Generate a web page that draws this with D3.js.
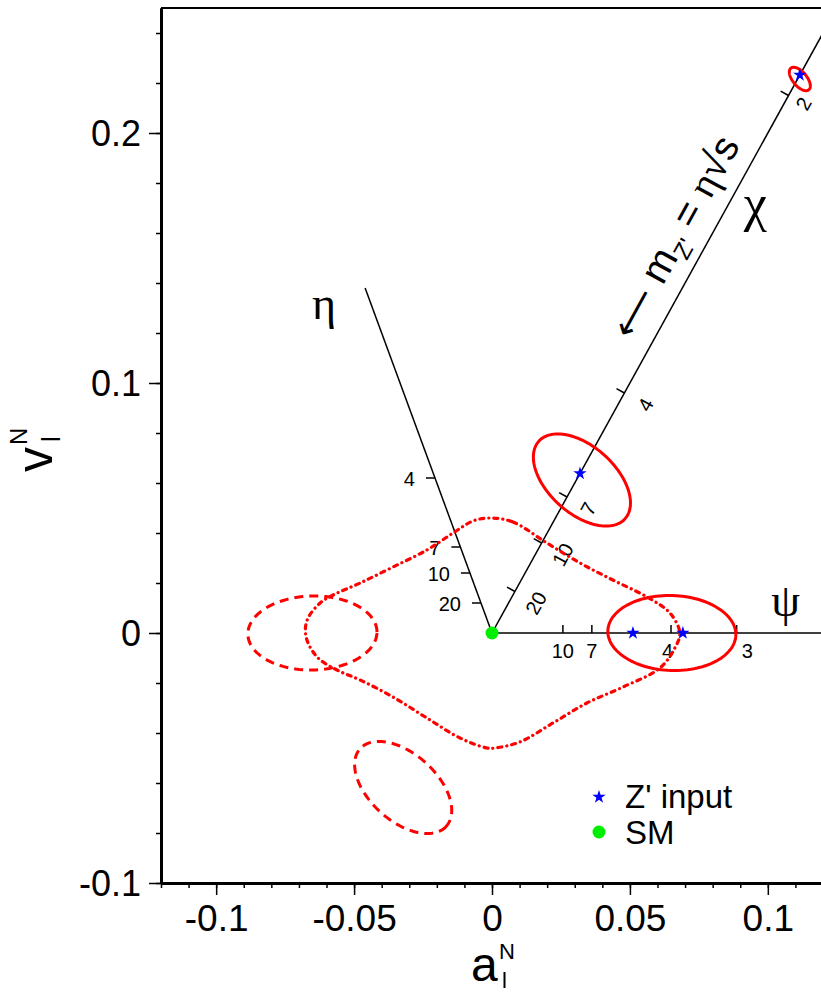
<!DOCTYPE html>
<html>
<head>
<meta charset="utf-8">
<script src="https://cdn.jsdelivr.net/npm/d3@7"></script>
<style>
  body { margin: 0; background: #fff; }
  svg { display: block; font-family: "Liberation Sans", Arial, sans-serif; }
  .greek { font-family: "Liberation Serif", "DejaVu Serif", serif; }
</style>
</head>
<body>
<svg id="chart" width="821" height="992"></svg>
<script>
// tick labels of the frame
var xMajor = [-0.1, -0.05, 0, 0.05, 0.1];
var yMajor = [-0.1, 0, 0.1, 0.2];

// model lines through the SM point: slope v/a and where they stop (a)
var rayNames = ["ψ", "χ", "η"];
var raySlopes = [0, 2, -3];
var rayEnds = [0.13, 0.13, -0.046];

// mass marks (TeV) along each line
var psiMass = [10, 7, 4, 3];
var psiA = [0.0257, 0.0362, 0.0649, 0.0887];
var chiMass = [20, 10, 7, 4, 2];
var chiA = [0.0083, 0.018, 0.0272, 0.048, 0.1075];
var etaMass = [4, 7, 10, 20];
var etaV = [0.062, 0.0344, 0.024, 0.012];

// Z' input points
var starA = [0.0319, 0.1116, 0.0511, 0.0692];
var starV = [0.0638, 0.2232, 0, 0];

// fitted ellipses: centre, two semi-axis vectors, dashed = mirror solutions
var ellCa = [0.0326, 0.1116, 0.0652, -0.0651, -0.0322];
var ellCv = [0.0612, 0.2216, 0.0, 0.0, -0.0618];
var ellUa = [0.01562, 0.00326, 0.0232, 0.0234, 0.01562];
var ellUv = [-0.01552, -0.00432, -0.0008, 0.0004, -0.01552];
var ellWa = [-0.00812, -0.00196, 0.0003, 0.0, -0.00812];
var ellWv = [-0.00996, -0.0018, 0.015, 0.0148, -0.00996];
var ellDashed = [false, false, false, true, true];

// SM contour (dash-dot)
var smA = [-0.0007, 0.0076, 0.0199, 0.0319, 0.0438, 0.0562, 0.0645, 0.0681, 0.0663, 0.0609,
           0.0475, 0.0344, 0.0221, 0.0101, 0.0011, -0.0018, -0.0116, -0.0236, -0.0359, -0.0478,
           -0.0562, -0.0634, -0.0674, -0.0670, -0.0623, -0.0576, -0.0478, -0.0359, -0.0236, -0.0141, -0.0069];
var smV = [0.0460, 0.0444, 0.0360, 0.0280, 0.0212, 0.0144, 0.0080, 0.0000, -0.0060, -0.0140,
           -0.0216, -0.0280, -0.0360, -0.0436, -0.0460, -0.0460, -0.0420, -0.0340, -0.0256, -0.0188,
           -0.0148, -0.0096, -0.0016, 0.0052, 0.0120, 0.0152, 0.0200, 0.0264, 0.0332, 0.0400, 0.0448];

var svg = d3.select("#chart");
var x = d3.scaleLinear().domain([-0.12, 0.12]).range([161, 823]);
var y = d3.scaleLinear().domain([-0.1, 0.25]).range([883, 8]);

// frame: minor ticks
svg.append("g").attr("class", "minor")
    .attr("transform", "translate(0,883)")
    .call(d3.axisBottom(x).ticks(24).tickSize(5).tickSizeOuter(0).tickFormat(""));
svg.append("g").attr("class", "minor")
    .attr("transform", "translate(161,0)")
    .call(d3.axisLeft(y).ticks(17).tickSize(5).tickSizeOuter(0).tickFormat(""));

var fmt = function(d) { return d === 0 ? "0" : String(d); };

var xAxis = svg.append("g")
    .attr("transform", "translate(0,883)")
    .call(d3.axisBottom(x).tickValues(xMajor).tickSize(12).tickSizeOuter(0).tickFormat(fmt));
xAxis.selectAll("text").style("font-size", "37px").attr("dy", "0").attr("y", 48);

var yAxis = svg.append("g")
    .attr("transform", "translate(161,0)")
    .call(d3.axisLeft(y).tickValues(yMajor).tickSize(12).tickSizeOuter(0).tickFormat(fmt));
yAxis.selectAll("text").style("font-size", "36px").attr("x", -20).attr("dy", "0.36em");

svg.selectAll(".tick line").attr("stroke", "#000").attr("stroke-width", 1.5);
svg.selectAll(".domain").attr("stroke", "#000").attr("stroke-width", 3);
svg.selectAll(".tick text").attr("fill", "#000");

// top border
svg.append("line")
    .attr("x1", x(-0.12)).attr("x2", x(0.12))
    .attr("y1", y(0.25)).attr("y2", y(0.25))
    .attr("stroke", "#000").attr("stroke-width", 2);

// axis titles
var xt = svg.append("g").attr("transform", "translate(471,981)");
xt.append("text").style("font-size", "48px").text("a");
xt.append("text").attr("x", 28).attr("y", -22).style("font-size", "22px").text("N");
xt.append("text").attr("x", 31).attr("y", 7).style("font-size", "22px").text("l");

var yt = svg.append("g").attr("transform", "translate(52,472) rotate(-90)");
yt.append("text").style("font-size", "50px").text("v");
yt.append("text").attr("x", 27).attr("y", -25).style("font-size", "24px").text("N");
yt.append("text").attr("x", 30).attr("y", 8).style("font-size", "26px").text("l");

// model lines
var rays = rayNames.map(function(n, i) {
  return { name: n, slope: raySlopes[i], end: rayEnds[i] };
});
svg.selectAll(".ray").data(rays).enter().append("line")
    .attr("class", "ray")
    .attr("x1", x(0)).attr("y1", y(0))
    .attr("x2", function(d) { return x(d.end); })
    .attr("y2", function(d) { return y(d.end * d.slope); })
    .attr("stroke", "#000").attr("stroke-width", 1.5);

// psi marks: short ticks up, labels below
var psi = psiMass.map(function(m, i) { return { m: m, a: psiA[i] }; });
svg.selectAll(".psiT").data(psi).enter().append("line")
    .attr("x1", function(d) { return x(d.a); }).attr("x2", function(d) { return x(d.a); })
    .attr("y1", y(0)).attr("y2", y(0) - 8)
    .attr("stroke", "#000").attr("stroke-width", 1.5);
svg.selectAll(".psiL").data(psi).enter().append("text")
    .attr("x", function(d) { return x(d.a); }).attr("y", y(0) + 25)
    .attr("text-anchor", function(d, i) { return i === 2 ? "end" : (i === 3 ? "start" : "middle"); })
    .attr("dx", function(d, i) { return i === 2 ? 2 : (i === 3 ? 5 : 0); })
    .style("font-size", "20px").text(function(d) { return d.m; });

// eta marks: ticks to the left
var eta = etaMass.map(function(m, i) { return { m: m, v: etaV[i] }; });
svg.selectAll(".etaT").data(eta).enter().append("line")
    .attr("x1", function(d) { return x(d.v / -3); }).attr("x2", function(d) { return x(d.v / -3) - 9; })
    .attr("y1", function(d) { return y(d.v); }).attr("y2", function(d) { return y(d.v); })
    .attr("stroke", "#000").attr("stroke-width", 1.5);
svg.selectAll(".etaL").data(eta).enter().append("text")
    .attr("x", function(d) { return x(d.v / -3) - 20; }).attr("y", function(d) { return y(d.v); })
    .attr("dy", "0.4em").attr("text-anchor", "end").style("font-size", "20px").text(function(d) { return d.m; });

// chi marks: perpendicular ticks up-left, rotated labels down-right
var dx = x(1) - x(0), dy = y(2) - y(0);
var len = Math.sqrt(dx * dx + dy * dy);
var ux = dx / len, uy = dy / len;       // along the line
var px = -uy, py = ux;                  // perpendicular, down-right
var ang = Math.atan2(dy, dx) * 180 / Math.PI;
var chi = chiMass.map(function(m, i) { return { m: m, a: chiA[i] }; });
svg.selectAll(".chiT").data(chi).enter().append("line")
    .attr("x1", function(d) { return x(d.a); }).attr("y1", function(d) { return y(2 * d.a); })
    .attr("x2", function(d) { return x(d.a) - 9 * px; }).attr("y2", function(d) { return y(2 * d.a) - 9 * py; })
    .attr("stroke", "#000").attr("stroke-width", 1.5);
svg.selectAll(".chiL").data(chi).enter().append("text")
    .attr("transform", function(d, i) {
      var off = i === 4 ? 17 : 24;
      return "translate(" + (x(d.a) + off * px) + "," + (y(2 * d.a) + off * py) + ") rotate(" + ang + ")";
    })
    .attr("text-anchor", "middle").attr("dy", "0.36em").style("font-size", "20px")
    .text(function(d) { return d.m; });

// line names
svg.append("text").attr("class", "greek").attr("x", x(-0.0609)).attr("y", y(0.131)).attr("dy", "0.3em")
    .attr("text-anchor", "middle").style("font-size", "46px").text("η");
svg.append("text").attr("class", "greek").attr("x", x(0.1065)).attr("y", y(0.0122)).attr("dy", "0.3em")
    .attr("text-anchor", "middle").style("font-size", "46px").text("ψ");
svg.append("text").attr("class", "greek").attr("x", x(0.0955)).attr("y", y(0.171)).attr("dy", "0.3em")
    .attr("text-anchor", "middle").style("font-size", "52px").text("χ");

var along = 0.0762;
var mt = svg.append("text")
    .attr("transform", "translate(" + (x(along) - 30 * px) + "," + (y(2 * along) - 30 * py) + ") rotate(" + ang + ")")
    .attr("text-anchor", "middle").attr("dy", "0.3em").style("font-size", "40px");
mt.append("tspan").style("font-family", "DejaVu Sans").style("font-weight", "200").style("font-size", "36px").text("⟵");
mt.append("tspan").text("  m");
mt.append("tspan").attr("dy", 9).style("font-size", "24px").text("Z'");
mt.append("tspan").attr("dy", -9).text(" = ");
mt.append("tspan").attr("class", "greek").text("η");
mt.append("tspan").text("√s");

// SM contour
var smPts = smA.map(function(a, i) { return [a, smV[i]]; });
svg.append("path")
    .attr("d", d3.line().x(function(d) { return x(d[0]); }).y(function(d) { return y(d[1]); })
      .curve(d3.curveCatmullRomClosed)(smPts))
    .attr("fill", "none").attr("stroke", "#ff0000").attr("stroke-width", 3.2)
    .attr("stroke-linecap", "round").attr("stroke-dasharray", "4 5 0.1 5");

// ellipses
var ells = ellCa.map(function(c, i) {
  return { ca: c, cv: ellCv[i], ua: ellUa[i], uv: ellUv[i], wa: ellWa[i], wv: ellWv[i], dashed: ellDashed[i] };
});
var tt = d3.range(0, 2 * Math.PI, Math.PI / 60);
svg.selectAll(".ell").data(ells).enter().append("path")
    .attr("d", function(e) {
      var pts = tt.map(function(t) {
        return [x(e.ca + e.ua * Math.cos(t) + e.wa * Math.sin(t)),
                y(e.cv + e.uv * Math.cos(t) + e.wv * Math.sin(t))];
      });
      return d3.line().curve(d3.curveLinearClosed)(pts);
    })
    .attr("fill", "none").attr("stroke", "#ff0000").attr("stroke-width", 3)
    .attr("stroke-dasharray", function(e) { return e.dashed ? "9 6" : null; });

// SM point and Z' inputs
svg.append("circle").attr("cx", x(0)).attr("cy", y(0)).attr("r", 6.5).attr("fill", "#00ee00");
var stars = starA.map(function(a, i) { return [a, starV[i]]; });
var star = d3.symbol(d3.symbolStar, 55);
svg.selectAll(".star").data(stars).enter().append("path")
    .attr("transform", function(d) { return "translate(" + x(d[0]) + "," + y(d[1]) + ")"; })
    .attr("d", star).attr("fill", "#0000ff");

// legend
var lg = svg.append("g").attr("transform", "translate(599,797)");
lg.append("path").attr("d", star).attr("fill", "#0000ff");
lg.append("text").attr("x", 26).attr("y", 11).style("font-size", "33px").text("Z' input");
lg.append("circle").attr("cy", 35).attr("r", 6.5).attr("fill", "#00ee00");
lg.append("text").attr("x", 26).attr("y", 47).style("font-size", "33px").text("SM");
</script>
</body>
</html>
